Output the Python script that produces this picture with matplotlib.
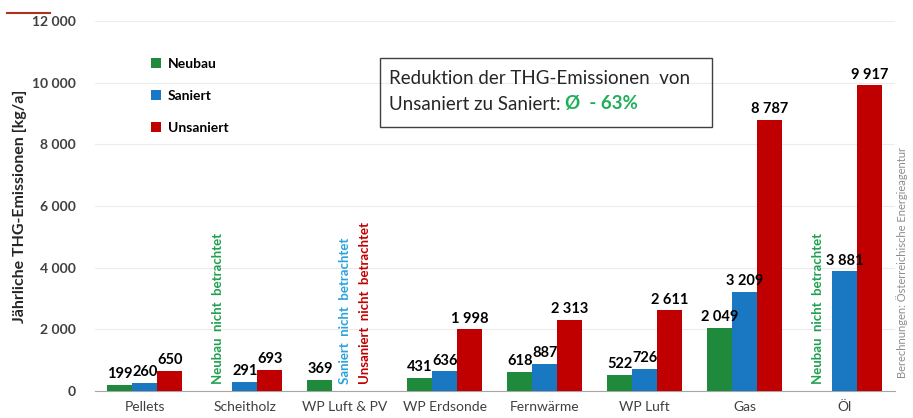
import numpy as np
import matplotlib.pyplot as plt
from matplotlib.lines import Line2D

plt.rcParams['font.family'] = ['Lato', 'DejaVu Sans']

kategorien = ['Pellets', 'Scheitholz', 'WP Luft & PV', 'WP Erdsonde',
              'Fernwärme', 'WP Luft', 'Gas', 'Öl']
neubau = [199, np.nan, 369, 431, 618, 522, 2049, np.nan]
saniert = [260, 291, np.nan, 636, 887, 726, 3209, 3881]
unsaniert = [650, 693, np.nan, 1998, 2313, 2611, 8787, 9917]
y_ticks = [0, 2000, 4000, 6000, 8000, 10000, 12000]

serien = [('Neubau', neubau, '#1f8a3b'),
          ('Saniert', saniert, '#1a78c2'),
          ('Unsaniert', unsaniert, '#c00000')]

def fmt(v):
    return f'{int(v):,}'.replace(',', ' ')

fig = plt.figure(figsize=(9.13, 4.18), dpi=100)
ax = fig.add_axes([0.104, 0.0646, 0.876, 0.8852])

x = np.arange(len(kategorien))
w = 0.25
for i, (name, werte, farbe) in enumerate(serien):
    pos = x + (i - 1) * w
    ax.bar(pos, werte, width=w, color=farbe, label=name, zorder=3)
    for p, v in zip(pos, werte):
        if not np.isnan(v):
            ax.text(p, v + 120, fmt(v), ha='center', va='bottom',
                    fontsize=10.5, fontweight='bold', color='black', zorder=4)

ax.set_xlim(-0.5, len(kategorien) - 0.5)
ax.set_ylim(0, 12000)
ax.set_yticks(y_ticks)
ax.set_yticklabels([fmt(t) for t in y_ticks], fontweight='bold', color='#404040', fontsize=10)
ax.set_xticks(x)
ax.set_xticklabels(kategorien, color='#404040', fontsize=10)
ax.tick_params(axis='both', length=0)
ax.tick_params(axis='y', pad=14)
ax.tick_params(axis='x', pad=7)
ax.grid(axis='y', color='#ececec', linewidth=0.8, zorder=0)
for s in ['top', 'right', 'left']:
    ax.spines[s].set_visible(False)
ax.spines['bottom'].set_color('#a6a6a6')
ax.set_ylabel('Jährliche THG-Emissionen [kg/a]', fontweight='bold', fontsize=11.5,
              color='#262626')
ax.yaxis.set_label_coords(-0.085, 0.5)

ax.legend(loc='upper left', bbox_to_anchor=(0.055, 0.935), frameon=False,
          handlelength=0.7, handleheight=0.7, handletextpad=0.5, labelspacing=1.45,
          prop={'weight': 'bold', 'size': 10})

# Hinweise für nicht betrachtete Varianten
hinweise = [(1 - w - 0.02, 'Neubau  nicht  betrachtet', '#1fa050'),
            (2 + 0.0, 'Saniert  nicht  betrachtet', '#29a3dc'),
            (2 + 0.2, 'Unsaniert  nicht  betrachtet', '#c00000'),
            (7 - w - 0.02, 'Neubau  nicht  betrachtet', '#1fa050')]
for xp, txt, farbe in hinweise:
    ax.text(xp, 230, txt, rotation=90, ha='center', va='bottom',
            fontsize=9.5, fontweight='bold', color=farbe, zorder=4)

# Textbox mit mittlerer Reduktion
fig.patches.append(plt.Rectangle((380 / 913, 1 - 127 / 418), 332 / 913, 69 / 418,
                                 transform=fig.transFigure, fill=False,
                                 edgecolor='#404040', linewidth=1.0))
fig.text(389 / 913, 1 - 78 / 418, 'Reduktion der THG-Emissionen  von',
         fontsize=13.5, color='#262626', va='center')
t2 = fig.text(389 / 913, 1 - 104 / 418, 'Unsaniert zu Saniert: ',
              fontsize=13.5, color='#262626', va='center')
fig.canvas.draw()
bb = t2.get_window_extent()
fig.text(bb.x1 / 913, 1 - 104 / 418, 'Ø  - 63%', fontsize=13.5, color='#1fae5a',
         fontweight='bold', va='center')

fig.text(902 / 913, 1 - 263 / 418, 'Berechnungen: Österreichische Energieagentur',
         rotation=90, ha='center', va='center', fontsize=8, color='#8c8c8c')

fig.lines.append(Line2D([7 / 913, 50 / 913], [1 - 13 / 418, 1 - 13 / 418],
                        transform=fig.transFigure, color='#b03020', linewidth=1.5))

fig.savefig('out.png', dpi=100)
